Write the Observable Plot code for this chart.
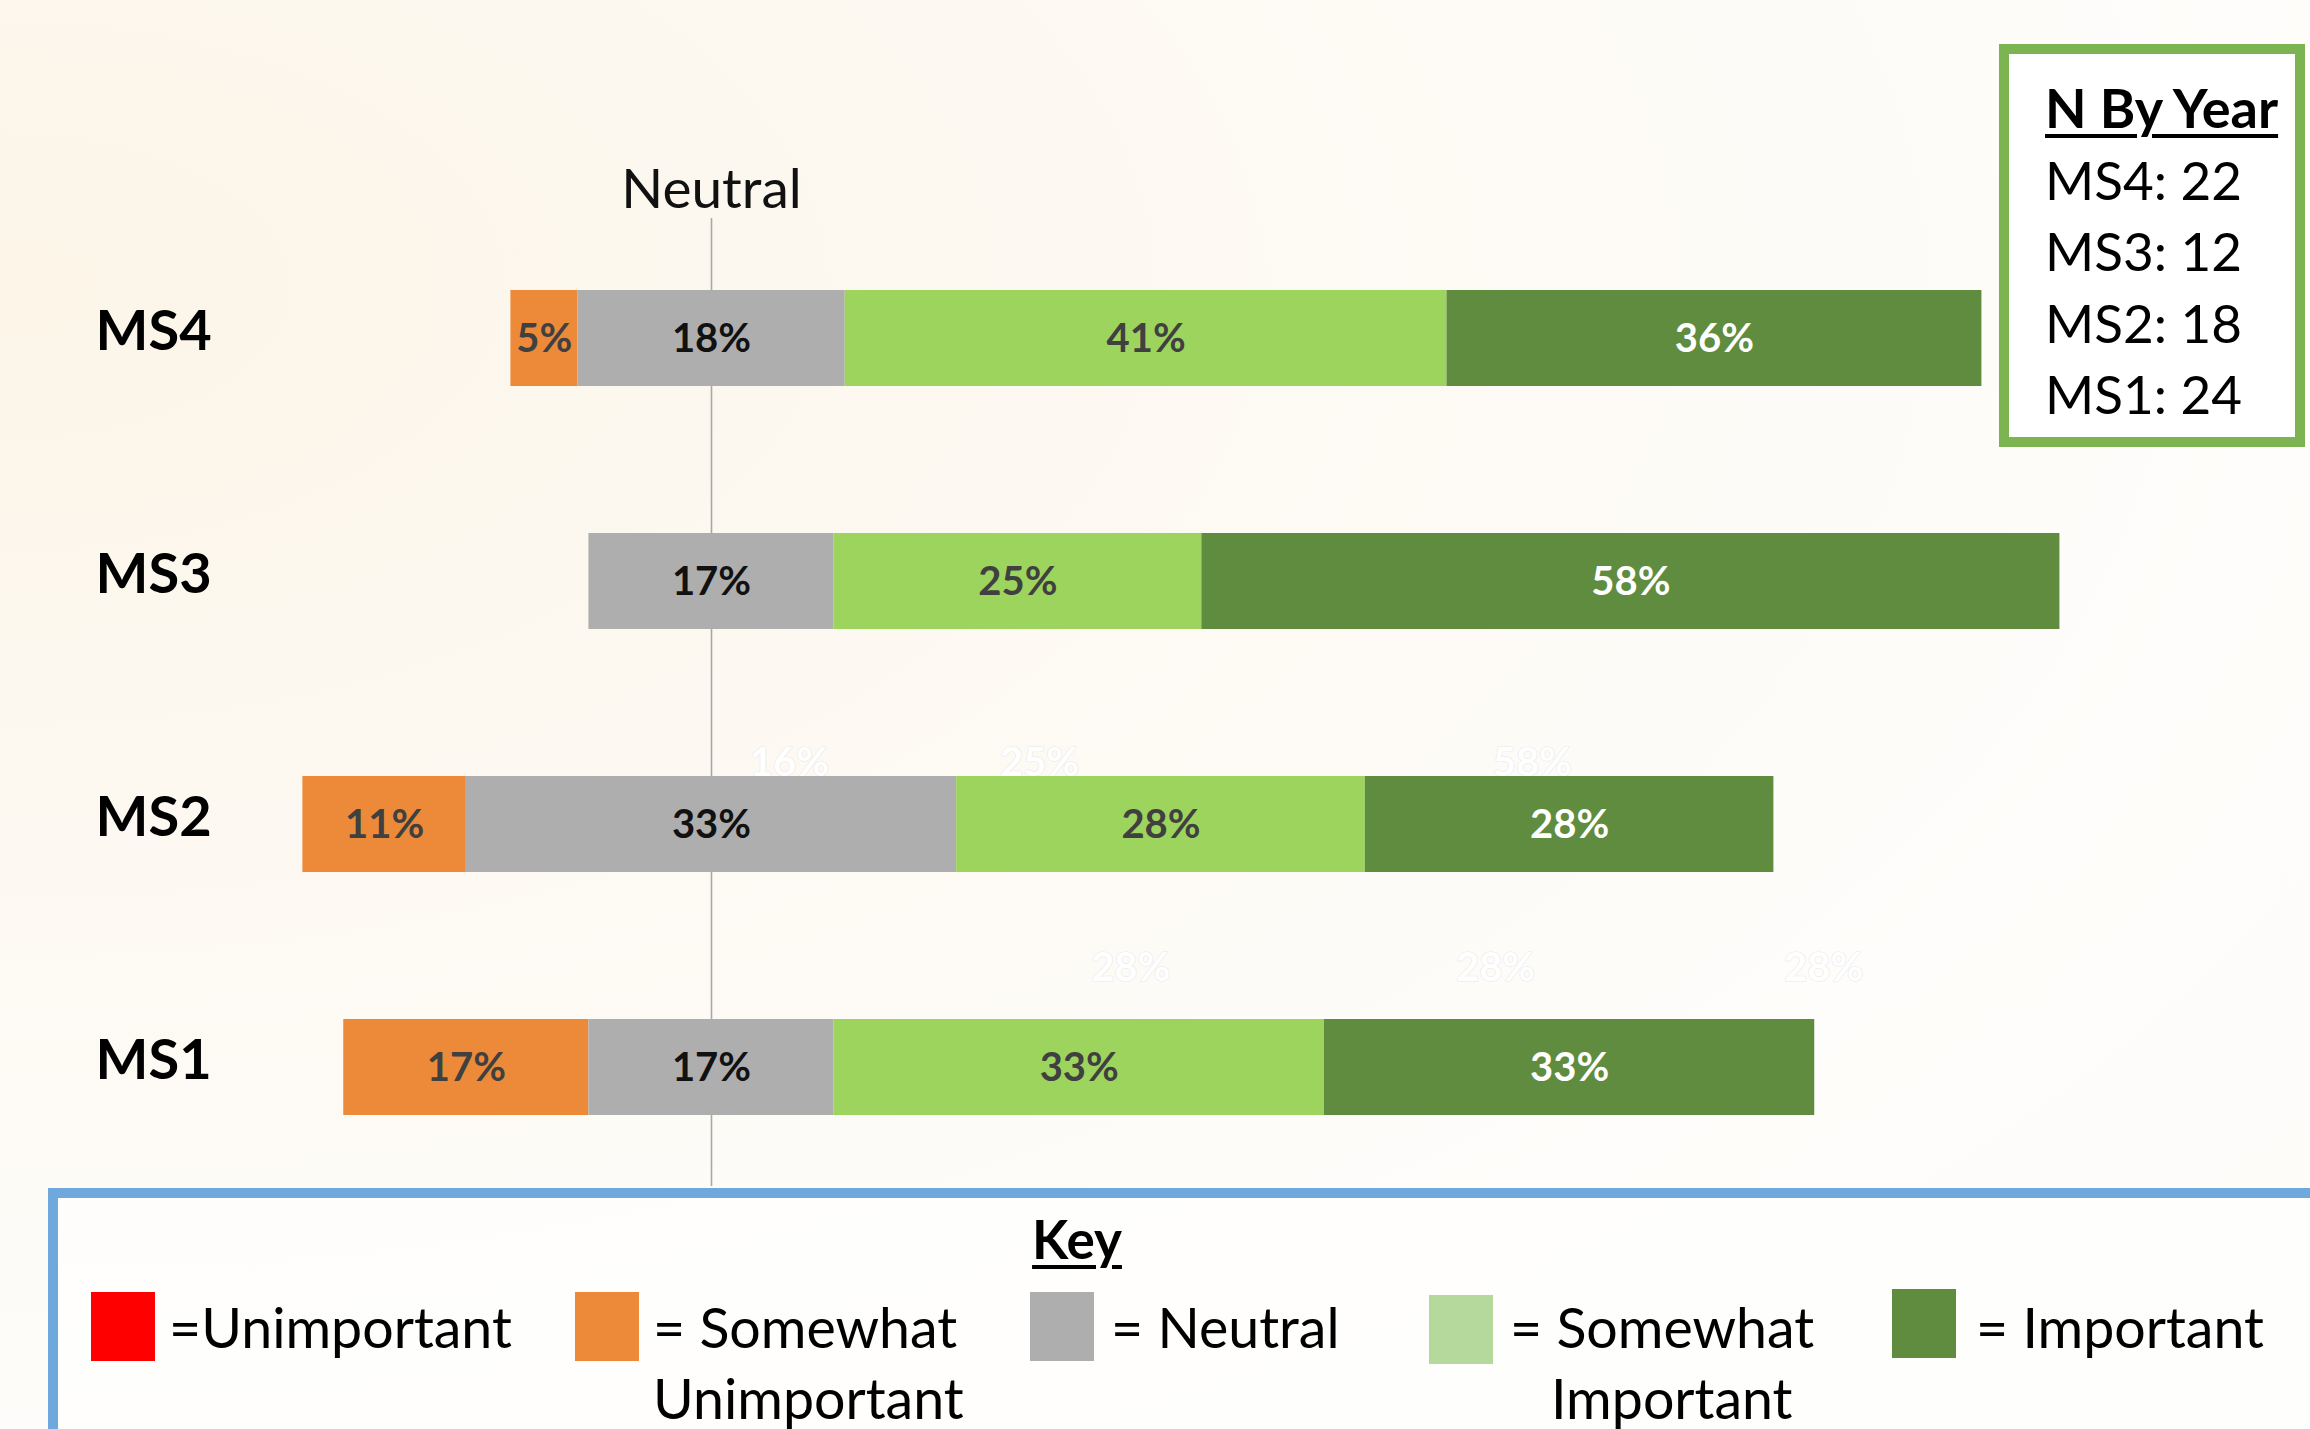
<!DOCTYPE html>
<html>
<head>
<meta charset="utf-8">
<script src="https://cdn.jsdelivr.net/npm/d3@7"></script>
<script src="https://cdn.jsdelivr.net/npm/@observablehq/plot@0.6"></script>
<style>
  html, body { margin: 0; padding: 0; }
  body { width: 2310px; height: 1429px; overflow: hidden; font-family: Lato, "Open Sans", sans-serif; }
  #page {
    position: relative; width: 2310px; height: 1429px; overflow: hidden;
    background: radial-gradient(ellipse 140% 120% at 0% 20%, #fcf5e8 0%, #fdf9f2 35%, #fefdfb 70%, #fdfcf9 100%);
  }
  #chart { position: absolute; left: 0; top: 0; }
  .abs { position: absolute; white-space: nowrap; line-height: 1; color: #000; }
  #nbox { position: absolute; left: 1999px; top: 44px; width: 306px; height: 403px; box-sizing: border-box;
          border: 10px solid #7CB451; background: #ffffff; }
  #keybox { position: absolute; left: 48px; top: 1188px; width: 2300px; height: 300px; box-sizing: border-box;
            border: 10px solid #6FA8DC; background: rgba(255,255,255,0.6); }
</style>
</head>
<body>
<div id="page">
  <div id="chart"></div>
  <div id="nbox"></div>
  <div id="keybox"></div>
  <div id="overlay"></div>
</div>
<script>
// ---- data (response counts per year; percentages = count / N) ----
const groups = ["MS4", "MS3", "MS2", "MS1"];
const categories = ["Unimportant", "Somewhat Unimportant", "Neutral", "Somewhat Important", "Important"];
const nByYear = [22, 12, 18, 24];
const unimportant = [0, 0, 0, 0];
const somewhatUnimportant = [1, 0, 2, 4];
const neutral = [4, 2, 6, 4];
const somewhatImportant = [9, 3, 5, 8];
const important = [8, 7, 5, 8];
const keyLabels = [["=Unimportant"], ["= Somewhat", "Unimportant"], ["= Neutral"], ["= Somewhat", "Important"], ["= Important"]];
// faint ghost labels visible in the background
const ghostTop = [{v: 5.3, t: "16%"}, {v: 22.3, t: "25%"}, {v: 55.8, t: "58%"}];
const ghostBottom = [{v: 28.5, t: "28%"}, {v: 53.3, t: "28%"}, {v: 75.6, t: "28%"}];

// ---- styles ----
const barColors = ["#FF0000", "#ED8A3A", "#AEAEAE", "#9DD45D", "#5F8C3E"];
const keyColors = ["#FF0000", "#ED8A3A", "#AEAEAE", "#B5D99C", "#5F8C3E"];
const labelColors = ["#ffffff", "#404040", "#111111", "#404040", "#ffffff"];
const font = "Lato, 'Open Sans', sans-serif";

// ---- build diverging stack table ----
const rows = [];
groups.forEach((g, i) => {
  const counts = [unimportant[i], somewhatUnimportant[i], neutral[i], somewhatImportant[i], important[i]];
  const vals = counts.map(c => 100 * c / nByYear[i]);
  let start = -(vals[0] + vals[1] + vals[2] / 2);
  vals.forEach((v, k) => {
    if (v > 0) rows.push({group: g, cat: categories[k], k, value: v, x1: start, x2: start + v});
    start += v;
  });
});

const pxPerPct = 14.71, zeroPx = 711, W = 2310, H = 1429;

const chart = Plot.plot({
  width: W, height: H,
  marginTop: 218, marginBottom: 243, marginLeft: 0, marginRight: 0,
  style: {background: "transparent", fontFamily: font, overflow: "visible"},
  x: {domain: [-zeroPx / pxPerPct, (W - zeroPx) / pxPerPct], axis: null},
  y: {domain: groups, axis: null, paddingInner: 0.605, paddingOuter: 0.294},
  color: {domain: categories, range: barColors},
  marks: [
    Plot.ruleX([0], {stroke: "#A8A8A8", strokeWidth: 1.6}),
    Plot.text(ghostTop, {x: "v", y: () => "MS2", text: "t", dy: -61, fontSize: 40, fontWeight: "bold", fill: "#ffffff", stroke: "#e9e9e9", strokeWidth: 1.2, paintOrder: "stroke"}),
    Plot.text(ghostBottom, {x: "v", y: () => "MS1", text: "t", dy: -99, fontSize: 40, fontWeight: "bold", fill: "#ffffff", stroke: "#e9e9e9", strokeWidth: 1.2, paintOrder: "stroke"}),
    Plot.barX(rows, {x1: "x1", x2: "x2", y: "group", fill: "cat"}),
    ...labelColors.map((c, k) => Plot.text(rows.filter(d => d.k === k), {
      x: d => (d.x1 + d.x2) / 2, y: "group", text: d => Math.round(d.value) + "%",
      fill: c, fontSize: 40, fontWeight: "bold", dy: 1
    })),
    Plot.text(groups, {y: d => d, text: d => d, frameAnchor: "left", textAnchor: "start", dx: 95, dy: -6,
      fontSize: 56, fontWeight: "bold", fill: "#000"}),
    Plot.text(["Neutral"], {x: () => 0, text: d => d, frameAnchor: "top", dy: -50, fontSize: 55, fill: "#111"})
  ]
});
document.getElementById("chart").appendChild(chart);

// ---- N By Year box and Key (HTML overlays) ----
const overlay = document.getElementById("overlay");
function addText(txt, left, centerY, size, opts = {}) {
  const d = document.createElement("div");
  d.className = "abs";
  d.textContent = txt;
  d.style.left = left + "px";
  d.style.top = (centerY - size * 0.53) + "px";
  d.style.fontSize = size + "px";
  if (opts.bold) d.style.fontWeight = "bold";
  if (opts.underline) { d.style.textDecoration = "underline"; d.style.textDecorationThickness = "4px"; d.style.textUnderlineOffset = "6px"; }
  if (opts.center) { d.style.transform = "translateX(-50%)"; }
  overlay.appendChild(d);
}
addText("N By Year", 2045, 110, 54, {bold: true, underline: true});
groups.forEach((g, i) => addText(g + ": " + nByYear[i], 2045, 181 + i * 71.3, 53));

addText("Key", 1077, 1240, 53, {bold: true, underline: true, center: true});
const swatchX = [91, 575, 1030, 1429, 1892];
const swatchY = [1292, 1292, 1292, 1295, 1289];
const textX = [[169], [653, 653], [1111], [1510, 1551], [1976]];
keyColors.forEach((c, i) => {
  const s = document.createElement("div");
  s.style.position = "absolute";
  s.style.left = swatchX[i] + "px";
  s.style.top = swatchY[i] + "px";
  s.style.width = "64px";
  s.style.height = "69px";
  s.style.background = c;
  overlay.appendChild(s);
  keyLabels[i].forEach((t, j) => addText(t, textX[i][j], j === 0 ? 1328 : 1399, 55.5));
});
</script>
</body>
</html>
